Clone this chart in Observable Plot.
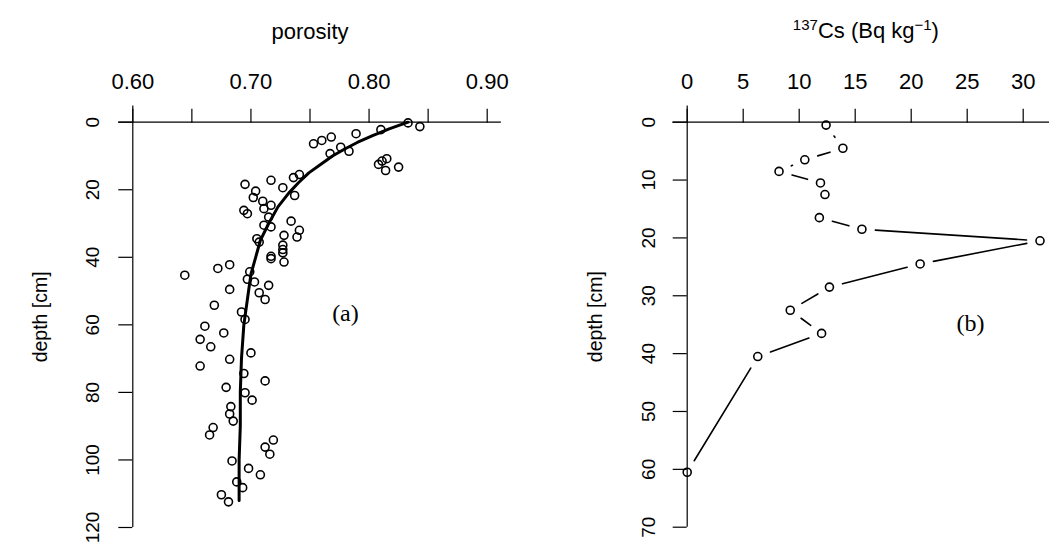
<!DOCTYPE html>
<html><head><meta charset="utf-8">
<script src="https://cdn.jsdelivr.net/npm/d3@7"></script>
<script src="https://cdn.jsdelivr.net/npm/@observablehq/plot@0.6"></script>
<style>
html,body{margin:0;padding:0;background:#fff;overflow:hidden;}
#wrap{position:relative;width:1049px;height:546px;overflow:hidden;}
#left,#right{position:absolute;top:0;}
#left{left:0;width:560px;}
#right{left:560px;width:489px;}
svg{max-width:none !important;overflow:visible;}
</style></head><body>
<div id="wrap"><div id="left"></div><div id="right"></div></div>
<script>
// ---- Panel (a): porosity profile ----
const porosityDepth = [0.2,1.3,2.2,3.4,4.4,5.4,6.4,7.4,8.6,9.3,10.8,11.5,12.5,13.3,14.3,15.5,16.4,17.2,18.4,19.4,
  20.4,21.7,22.3,23.4,24.6,25.6,26.1,27.1,28.1,29.3,30.5,31.0,32.0,33.5,34.0,34.5,35.5,36.4,37.7,38.7,
  39.7,40.4,41.4,42.2,43.3,44.3,45.3,46.5,47.3,48.3,49.5,50.5,52.5,54.2,56.2,58.4,60.4,62.4,64.3,66.5,
  68.3,70.2,72.2,74.4,76.6,78.5,80.1,82.3,84.2,86.4,88.5,90.4,92.6,94.1,96.2,98.3,100.3,102.5,104.4,106.5,
  108.2,110.3,112.4];
const porosityValue = [0.833,0.843,0.810,0.789,0.768,0.760,0.753,0.776,0.783,0.767,0.815,0.811,0.808,0.825,0.814,0.741,0.736,0.717,0.695,0.727,
  0.704,0.737,0.702,0.710,0.717,0.711,0.694,0.697,0.715,0.734,0.711,0.717,0.741,0.728,0.739,0.705,0.707,0.727,0.727,0.727,
  0.717,0.717,0.728,0.682,0.672,0.699,0.644,0.697,0.703,0.715,0.682,0.707,0.712,0.669,0.692,0.695,0.661,0.677,0.657,0.666,
  0.700,0.682,0.657,0.694,0.712,0.679,0.695,0.701,0.683,0.682,0.685,0.668,0.665,0.719,0.712,0.716,0.684,0.698,0.708,0.688,
  0.693,0.675,0.681];
// fitted curve
const fitDepth    = [0, 2, 4, 6, 8, 10, 12, 15, 18, 21, 25, 30, 35, 40, 45, 50, 60, 70, 80, 90, 100, 112];
const fitPorosity = [0.833,0.817,0.803,0.790,0.779,0.769,0.761,0.749,0.740,0.732,0.723,0.715,0.708,0.704,0.700,0.698,0.694,0.692,0.691,0.691,0.690,0.690];
const porosityTicks = [0.60,0.65,0.70,0.75,0.80,0.85,0.90];
const porosityTickLabels = ["0.60","","0.70","","0.80","","0.90"];
const depthTicksA = [0,20,40,60,80,100,120];

// ---- Panel (b): 137Cs profile ----
const csDepth    = [0.5,4.5,6.5,8.5,10.5,12.5,16.5,18.5,20.5,24.5,28.5,32.5,36.5,40.5,60.5];
const csActivity = [12.4,13.9,10.5,8.2,11.9,12.3,11.8,15.6,31.5,20.8,12.7,9.2,12.0,6.3,0];
const csTicks = [0,5,10,15,20,25,30];
const depthTicksB = [0,10,20,30,40,50,60,70];

const FSX = 22;   // horizontal tick labels
const FSY = 19;   // rotated tick labels
const font = "'Liberation Sans', Arial, sans-serif";
const serif = "'Liberation Serif', 'Times New Roman', serif";
const baseStyle = {fontFamily: font, fontSize: FSX + "px", color: "black", background: "white", overflow: "visible"};

const pts = porosityDepth.map((d, i) => ({depth: d, porosity: porosityValue[i]}));
const fit = fitDepth.map((d, i) => ({depth: d, porosity: fitPorosity[i]}));

const left = Plot.plot({
  width: 560, height: 546,
  marginLeft: 132.3, marginRight: 73.3, marginTop: 121.7, marginBottom: 19,
  x: {domain: [0.60, 0.90], axis: null},
  y: {domain: [0, 120], reverse: true, axis: null},
  style: baseStyle,
  marks: [
    Plot.ruleY([0], {x1: 0.588, x2: 0.912, stroke: "black", strokeWidth: 1.2}),
    Plot.ruleX([0.60], {y1: -4.8, y2: 120, stroke: "black", strokeWidth: 1.2}),
    Plot.axisX({anchor: "top", ticks: porosityTicks, tickFormat: (d, i) => porosityTickLabels[i],
      tickSize: 14, tickPadding: 19, fontSize: FSX, label: null, strokeWidth: 1.2}),
    Plot.axisY({anchor: "left", ticks: depthTicksA, tickFormat: d => String(d), tickRotate: -90,
      tickSize: 14, tickPadding: 20, fontSize: FSY, label: null, strokeWidth: 1.2}),
    Plot.line(fit, {x: "porosity", y: "depth", stroke: "black", strokeWidth: 3}),
    Plot.dot(pts, {x: "porosity", y: "depth", r: 4, stroke: "black", strokeWidth: 1.6, fill: "none"}),
    Plot.text(["porosity"], {frameAnchor: "top", textAnchor: "middle", lineAnchor: "bottom", dy: -83.7, fontSize: 22}),
    Plot.text(["depth [cm]"], {frameAnchor: "left", textAnchor: "middle", rotate: -90, dx: -92, dy: -8, fontSize: 19.5}),
    Plot.text(["(a)"], {x: 0.780, y: 56.5, fontFamily: serif, fontSize: 24})
  ]
});
document.getElementById("left").appendChild(left);

const cs = csDepth.map((d, i) => ({depth: d, activity: csActivity[i]}));
const segs = d3.pairs(cs).map(([a, b]) => ({x1: a.activity, y1: a.depth, x2: b.activity, y2: b.depth}));

const right = Plot.plot({
  width: 489, height: 546,
  marginLeft: 126.7, marginRight: 26.3, marginTop: 121.7, marginBottom: 19.3,
  x: {domain: [0, 30], axis: null},
  y: {domain: [0, 70], reverse: true, axis: null},
  style: baseStyle,
  marks: [
    Plot.ruleY([0], {x1: -1.28, x2: 33.5, stroke: "black", strokeWidth: 1.2}),
    Plot.ruleX([0], {y1: -2.8, y2: 70, stroke: "black", strokeWidth: 1.2}),
    Plot.axisX({anchor: "top", ticks: csTicks, tickFormat: d => String(d),
      tickSize: 14, tickPadding: 19, fontSize: FSX, label: null, strokeWidth: 1.2}),
    Plot.axisY({anchor: "left", ticks: depthTicksB, tickFormat: d => String(d), tickRotate: -90,
      tickSize: 14, tickPadding: 18, fontSize: FSY, label: null, strokeWidth: 1.2}),
    Plot.arrow(segs, {x1: "x1", y1: "y1", x2: "x2", y2: "y2", insetStart: 13.5, insetEnd: 13.5,
      headLength: 0, stroke: "black", strokeWidth: 1.6}),
    Plot.dot(cs, {x: "activity", y: "depth", r: 4, stroke: "black", strokeWidth: 1.6, fill: "none"}),
    Plot.text(["depth [cm]"], {frameAnchor: "left", textAnchor: "middle", rotate: -90, dx: -91.7, dy: -8, fontSize: 19.5}),
    Plot.text(["(b)"], {x: 25.3, y: 34.8, fontFamily: serif, fontSize: 24})
  ]
});
document.getElementById("right").appendChild(right);

// axis title with superscripts
const t = d3.select(right).append("text")
  .attr("x", 305.9).attr("y", 38).attr("text-anchor", "middle")
  .attr("font-family", font).attr("font-size", 22).attr("fill", "black");
t.append("tspan").attr("font-size", 15).attr("dy", -8).text("137");
t.append("tspan").attr("font-size", 22).attr("dy", 8).text("Cs (Bq kg");
t.append("tspan").attr("font-size", 15).attr("dy", -8).text("\u22121");
t.append("tspan").attr("font-size", 22).attr("dy", 8).text(")");
</script>
</body></html>
